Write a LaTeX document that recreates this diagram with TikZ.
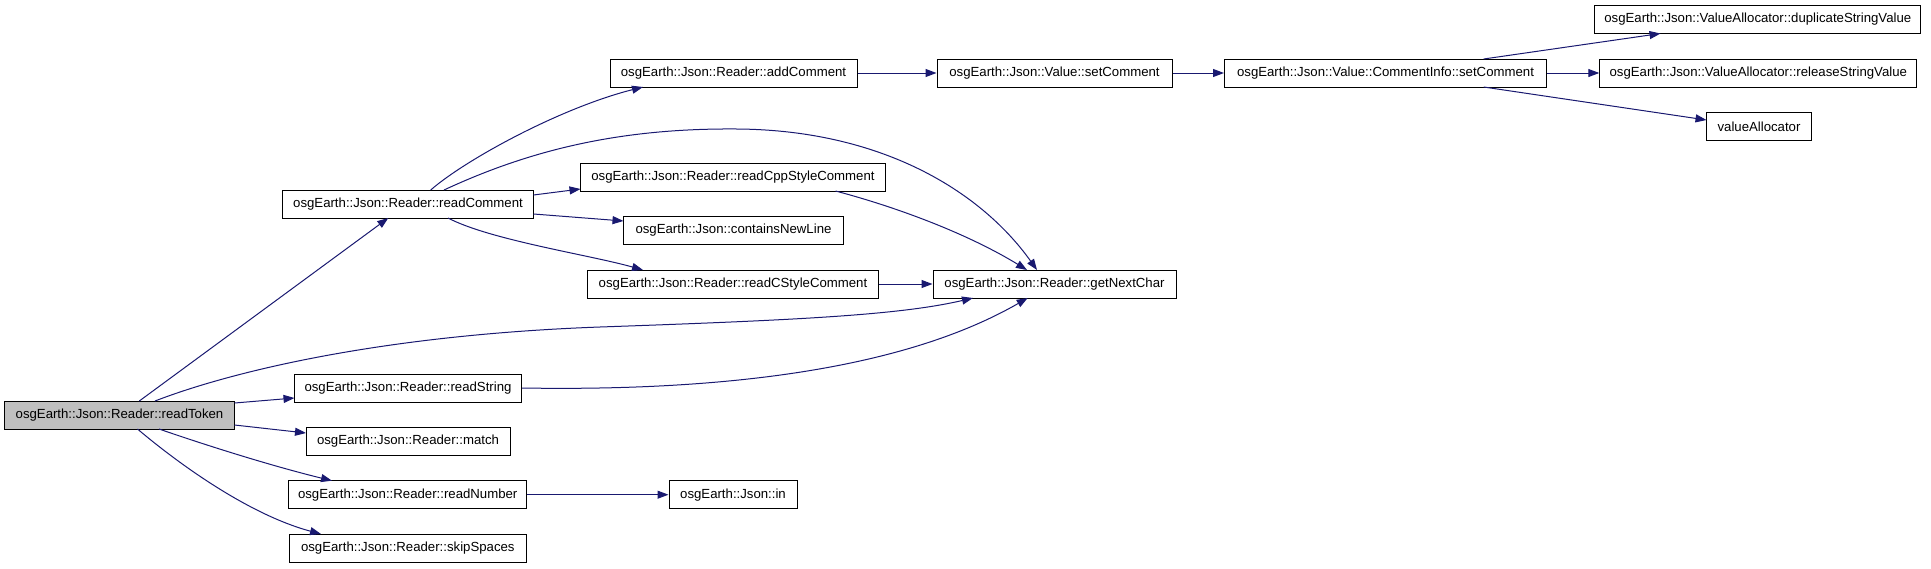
\documentclass[tikz,border=0pt]{standalone}
\usepackage{fontspec}
\setmainfont{Liberation Sans}
\usetikzlibrary{arrows.meta,calc}
\definecolor{edgecol}{RGB}{25,25,112}
\definecolor{rootfill}{RGB}{191,191,191}
\tikzset{
  fn/.style={draw=black, line width=1pt, fill=white, minimum height=28pt, inner sep=0pt, font=\fontsize{13.2}{15}\selectfont, text=black},
  rootfn/.style={fn, fill=rootfill},
  call/.style={draw=edgecol, line width=1pt, -{Triangle[length=11pt,width=8pt]}, color=edgecol}
}
\begin{document}
\begin{tikzpicture}[x=1pt,y=-1pt]
\useasboundingbox (0,0) rectangle (1931,568);
% nodes
\node[rootfn, minimum width=230pt] (rt) at (119.5,415) {osgEarth::Json::Reader::readToken};
\node[fn, minimum width=251pt] (rc) at (408,204) {osgEarth::Json::Reader::readComment};
\node[fn, minimum width=247pt] (ac) at (733.5,73) {osgEarth::Json::Reader::addComment};
\node[fn, minimum width=235pt] (vs) at (1054.5,73) {osgEarth::Json::Value::setComment};
\node[fn, minimum width=322pt] (cs) at (1385.5,73) {osgEarth::Json::Value::CommentInfo::setComment};
\node[fn, minimum width=326pt] (dup) at (1757.8,19.5) {osgEarth::Json::ValueAllocator::duplicateStringValue};
\node[fn, minimum width=317pt] (rel) at (1758.3,73) {osgEarth::Json::ValueAllocator::releaseStringValue};
\node[fn, minimum width=105pt] (va) at (1759,126.7) {valueAllocator};
\node[fn, minimum width=305pt] (cpp) at (733,177) {osgEarth::Json::Reader::readCppStyleComment};
\node[fn, minimum width=220pt] (cnl) at (733.5,230.5) {osgEarth::Json::containsNewLine};
\node[fn, minimum width=291pt] (csc) at (733,284) {osgEarth::Json::Reader::readCStyleComment};
\node[fn, minimum width=243pt] (gnc) at (1054.5,284) {osgEarth::Json::Reader::getNextChar};
\node[fn, minimum width=227pt] (rs) at (408,388) {osgEarth::Json::Reader::readString};
\node[fn, minimum width=204pt] (ma) at (408,441) {osgEarth::Json::Reader::match};
\node[fn, minimum width=238pt] (rn) at (407.7,494.7) {osgEarth::Json::Reader::readNumber};
\node[fn, minimum width=236.5pt] (ss) at (407.8,548) {osgEarth::Json::Reader::skipSpaces};
\node[fn, minimum width=128pt] (in) at (733,494.7) {osgEarth::Json::in};
% edges from readToken
\draw[call] ($(rt)+(19.8,-14)$) -- ($(rc)+(-19.7,14)$);
\draw[call] ($(rt)+(35.5,-14)$) .. controls (230,372) and (380,335) .. (600,327)
  .. controls (800,320) and (900,315) .. ($(gnc)+(-81.5,14)$);
\draw[call] ($(rt)+(115,-12)$) -- ($(rs)+(-113.5,10)$);
\draw[call] ($(rt)+(115,10)$) -- ($(ma)+(-102,-8)$);
\draw[call] ($(rt)+(39.5,14)$) .. controls (220,450) and (280,468) .. ($(rn)+(-75.7,-14)$);
\draw[call] ($(rt)+(18,14)$) .. controls (180,465) and (250,515) .. ($(ss)+(-86.8,-14)$);
% edges from readComment
\draw[call] ($(rc)+(22.7,-14)$) .. controls (465,160) and (560,108) .. ($(ac)+(-90.5,14)$);
\draw[call] ($(rc)+(36,-14)$) .. controls (530,150) and (620,128) .. (737,129)
  .. controls (880,130) and (980,190) .. ($(gnc)+(-17.5,-14)$);
\draw[call] ($(rc)+(125.5,-9)$) -- ($(cpp)+(-152.5,12)$);
\draw[call] ($(rc)+(125.5,10)$) -- ($(cnl)+(-110,-9.5)$);
\draw[call] ($(rc)+(40,14)$) .. controls (490,240) and (590,255) .. ($(csc)+(-90,-14)$);
% to getNextChar
\draw[call] ($(cpp)+(102.5,14)$) .. controls (900,208) and (970,235) .. ($(gnc)+(-27.5,-14)$);
\draw[call] (csc.east) -- (gnc.west);
\draw[call] (rs.east) .. controls (760,392) and (920,360) .. ($(gnc)+(-26.8,14)$);
% top chain
\draw[call] (ac.east) -- (vs.west);
\draw[call] (vs.east) -- (cs.west);
\draw[call] (cs.east) -- (rel.west);
\draw[call] ($(cs)+(98.2,-14)$) -- ($(dup)+(-97.3,14)$);
\draw[call] ($(cs)+(98.2,14)$) -- ($(va)+(-52.5,-6.7)$);
% readNumber -> in
\draw[call] (rn.east) -- (in.west);
\end{tikzpicture}
\end{document}
